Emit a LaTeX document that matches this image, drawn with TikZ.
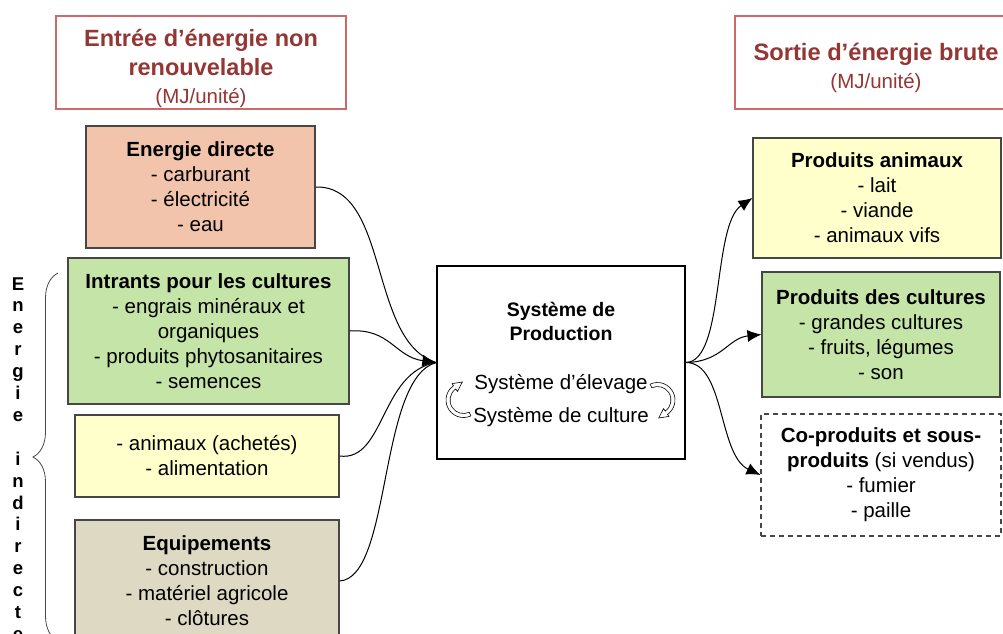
\documentclass[tikz,border=0pt]{standalone}
\usepackage{fontspec}
\setmainfont{Liberation Sans}
\usetikzlibrary{arrows.meta,decorations.pathreplacing,calc}
\definecolor{titred}{RGB}{148,54,52}
\definecolor{titborder}{RGB}{205,105,105}
\definecolor{salmon}{RGB}{242,196,172}
\definecolor{lgreen}{RGB}{197,228,167}
\definecolor{lyellow}{RGB}{255,255,204}
\definecolor{khaki}{RGB}{221,217,195}
\definecolor{boxgray}{RGB}{70,70,70}
\begin{document}
\begin{tikzpicture}[x=1pt,y=-1pt,
  titlebox/.style={draw=titborder, line width=1.2pt, fill=white, align=center, text=titred, inner sep=0pt},
  inbox/.style={draw=boxgray, line width=1.1pt, align=center, inner sep=0pt, font=\fontsize{20.5}{25}\selectfont},
  sysbox/.style={draw=black, line width=1.3pt, fill=white, inner sep=0pt},
  systext/.style={align=center, inner sep=0pt},
  flow/.style={line width=1pt, -{Latex[length=14pt,width=12pt]}},
  plainflow/.style={line width=1pt},
  curvarrow/.style={draw=black, fill=white, line width=0.6pt},
  vletter/.style={inner sep=0pt, font=\bfseries\fontsize{18.5}{22}\selectfont},
  bracestyle/.style={draw=boxgray, line width=0.8pt, decorate, decoration={brace, amplitude=25pt}}
]
\useasboundingbox (0,0) rectangle (1003,633);

% titles
\node[titlebox, minimum width=290pt, minimum height=93pt, font=\bfseries\fontsize{23.5}{28.5}\selectfont] (entree) at (201,62.5)
  {\rule{0pt}{30pt}Entrée d’énergie non\\renouvelable\\{\mdseries\fontsize{20.5}{28.5}\selectfont (MJ/unité)}};
\node[titlebox, minimum width=282pt, minimum height=93pt, font=\bfseries\fontsize{23.7}{28}\selectfont] (sortie) at (876,62.5)
  {\rule{0pt}{28pt}Sortie d’énergie brute\\{\mdseries\fontsize{20.5}{28}\selectfont (MJ/unité)}};

% inputs
\node[inbox, fill=salmon, minimum width=229pt, minimum height=122pt] (edirect) at (200.5,187)
  {\textbf{Energie directe}\\- carburant\\- électricité\\- eau};
\node[inbox, fill=lgreen, minimum width=281pt, minimum height=146pt] (intrants) at (208.5,331)
  {\textbf{Intrants pour les cultures}\\- engrais minéraux et\\organiques\\- produits phytosanitaires\\- semences};
\node[inbox, fill=lyellow, minimum width=264pt, minimum height=82pt] (animaux) at (207,456)
  {- animaux (achetés)\\- alimentation};
\node[inbox, fill=khaki, minimum width=264pt, minimum height=122pt] (equip) at (207,581)
  {\textbf{Equipements}\\- construction\\- matériel agricole\\- clôtures};

% vertical label and brace
\foreach \l [count=\i from 0] in {E,n,e,r,g,i,e}
  \node[vletter, anchor=base] (va\i) at (18,290+21.9*\i) {\l};
\foreach \l [count=\i from 0] in {i,n,d,i,r,e,c,t,e}
  \node[vletter, anchor=base] (vb\i) at (18,465.2+21.9*\i) {\l};
\coordinate (bracebot) at (58,641);
\coordinate (bracetop) at (58,273);
\draw[bracestyle] (bracebot) -- (bracetop);

% production system
\node[sysbox, minimum width=248pt, minimum height=193pt] (sys) at (561,362.5) {};
\node[systext, font=\bfseries\fontsize{19.5}{24}\selectfont] (systitle) at (561,321) {Système de\\Production};
\node[systext, font=\fontsize{20.5}{25}\selectfont] (syselev) at (561,384) {Système d’élevage};
\node[systext, font=\fontsize{20.5}{25}\selectfont] (syscult) at (561,417) {Système de culture};

% small circular arrows
\coordinate (lc) at (463.5,400);
\coordinate (rc) at (657.5,400);
\draw[curvarrow] ($(lc)+(65:17.5)$) arc[start angle=65, end angle=235, radius=17.5]
  -- ($(lc)+(235:20)$) -- ($(lc)+(-1.2,-18)$) -- ($(lc)+(235:10.5)$) -- ($(lc)+(235:13.5)$)
  arc[start angle=235, end angle=65, radius=13.5] -- cycle;
\draw[curvarrow] ($(rc)+(245:17.5)$) arc[start angle=245, end angle=415, radius=17.5]
  -- ($(rc)+(55:20)$) -- ($(rc)+(1.2,18)$) -- ($(rc)+(55:10.5)$) -- ($(rc)+(55:13.5)$)
  arc[start angle=415, end angle=245, radius=13.5] -- cycle;

% outputs
\node[inbox, fill=lyellow, minimum width=248pt, minimum height=120pt] (panimaux) at (877,198)
  {\textbf{Produits animaux}\\- lait\\- viande\\- animaux vifs};
\node[inbox, fill=lgreen, minimum width=238pt, minimum height=125pt] (pcult) at (881,334.5)
  {\textbf{Produits des cultures}\\- grandes cultures\\- fruits, légumes\\- son};
\node[inbox, fill=white, dashed, dash pattern=on 5pt off 4pt, minimum width=240pt, minimum height=122pt] (coprod) at (881,475)
  {\textbf{Co-produits et sous-}\\\textbf{produits} (si vendus)\\- fumier\\- paille};

% input connectors
\draw[plainflow] (edirect.east) .. controls (390,185) and (368,342) .. (sys.west);
\draw[plainflow] (animaux.east) .. controls (385,462) and (380,372) .. (sys.west);
\draw[plainflow] (equip.east) .. controls (392,578) and (378,378) .. (sys.west);
\draw[flow] (intrants.east) .. controls (390,328) and (395,357) .. (sys.west);

% output connectors
\draw[flow] (sys.east) .. controls (725,362) and (712,225) .. (panimaux.west);
\draw[flow] (sys.east) .. controls (722,362) and (728,338) .. (pcult.west);
\draw[flow] (sys.east) .. controls (725,362) and (718,455) .. (coprod.west);
\end{tikzpicture}
\end{document}
